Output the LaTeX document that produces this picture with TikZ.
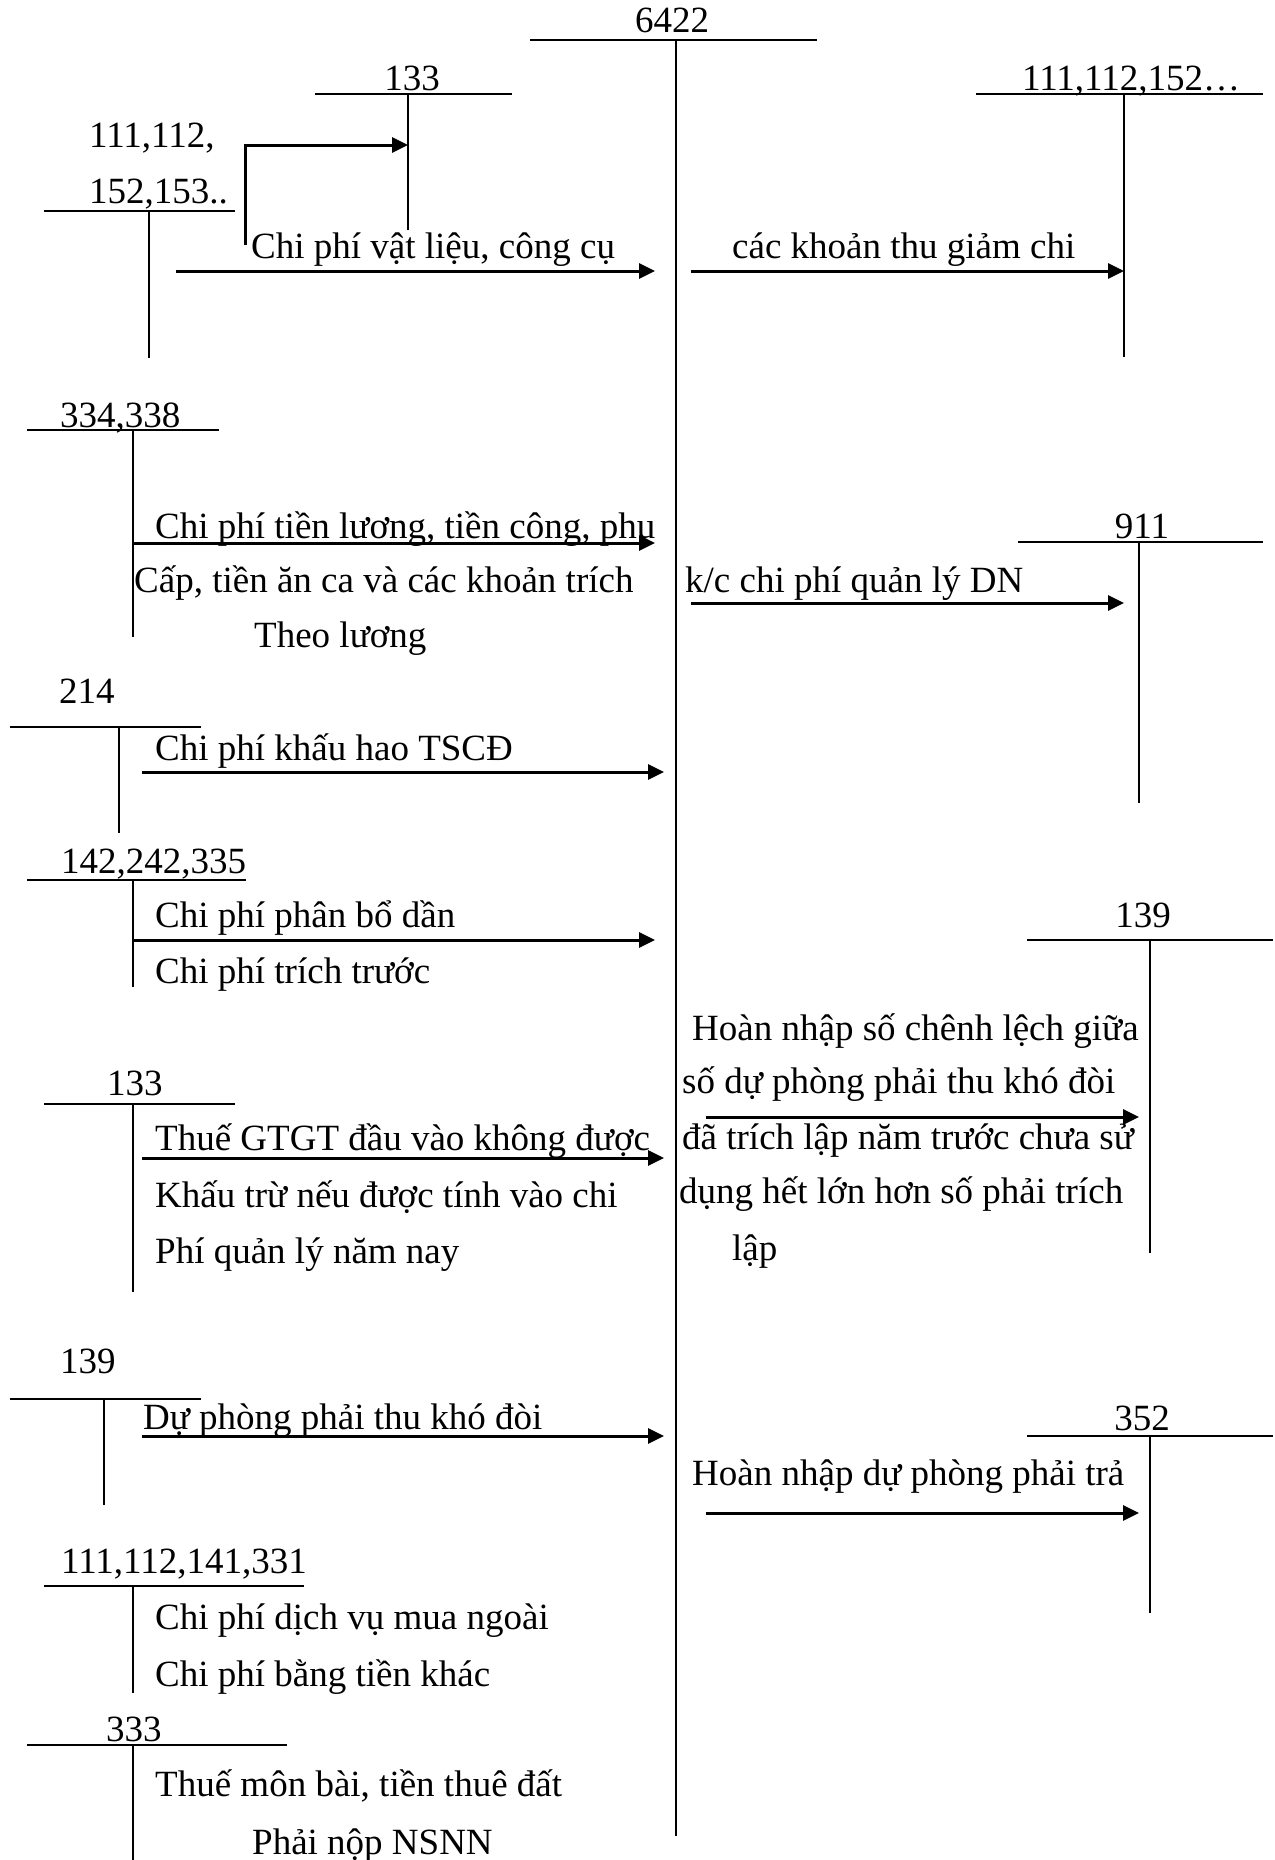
\documentclass[tikz,border=0pt]{standalone}
\usepackage{fontspec}
\setmainfont{Liberation Serif}
\usetikzlibrary{arrows.meta}
\newcommand\dfont{\fontsize{37}{44}\selectfont}
\tikzset{
  tline/.style={line width=1.7pt},
  flow/.style={line width=3pt,-{Triangle[length=16pt,width=15pt]}},
  txt/.style={inner sep=0pt,anchor=base west,font=\dfont},
  acc/.style={inner sep=0pt,anchor=base,font=\dfont},
}
\begin{document}
\begin{tikzpicture}[x=1pt,y=-1pt]
\useasboundingbox (0,0) rectangle (1274,1860);
% ---------- T-accounts ----------
% 6422
\node[acc] (l6422) at (672,33) {6422};
\coordinate (h6422a) at (530,40); \coordinate (h6422b) at (817,40);
\coordinate (v6422a) at (676,40); \coordinate (v6422b) at (676,1836);
\draw[tline] (h6422a) -- (h6422b); \draw[tline] (v6422a) -- (v6422b);
% 133 top
\node[acc] (l133a) at (412,90) {133};
\coordinate (h133aa) at (315,94); \coordinate (h133ab) at (512,94);
\coordinate (v133aa) at (408,94); \coordinate (v133ab) at (408,230);
\draw[tline] (h133aa) -- (h133ab); \draw[tline] (v133aa) -- (v133ab);
% 111,112,152,153..
\node[txt] (l111a1) at (89,147) {111,112,};
\node[txt] (l111a2) at (89,203) {152,153..};
\coordinate (h111aa) at (44,211); \coordinate (h111ab) at (235,211);
\coordinate (v111aa) at (149,211); \coordinate (v111ab) at (149,358);
\draw[tline] (h111aa) -- (h111ab); \draw[tline] (v111aa) -- (v111ab);
% 111,112,152... right
\node[txt] (l111r) at (1022,90) {111,112,152…};
\coordinate (h111ra) at (976,94); \coordinate (h111rb) at (1263,94);
\coordinate (v111ra) at (1124,94); \coordinate (v111rb) at (1124,357);
\draw[tline] (h111ra) -- (h111rb); \draw[tline] (v111ra) -- (v111rb);
% 334,338
\node[txt] (l334) at (60,427) {334,338};
\coordinate (h334a) at (27,430); \coordinate (h334b) at (219,430);
\coordinate (v334a) at (133,430); \coordinate (v334b) at (133,637);
\draw[tline] (h334a) -- (h334b); \draw[tline] (v334a) -- (v334b);
% 214
\node[txt] (l214) at (59,703) {214};
\coordinate (h214a) at (10,727); \coordinate (h214b) at (201,727);
\coordinate (v214a) at (119,727); \coordinate (v214b) at (119,833);
\draw[tline] (h214a) -- (h214b); \draw[tline] (v214a) -- (v214b);
% 911
\node[acc] (l911) at (1142,538) {911};
\coordinate (h911a) at (1018,542); \coordinate (h911b) at (1263,542);
\coordinate (v911a) at (1139,542); \coordinate (v911b) at (1139,803);
\draw[tline] (h911a) -- (h911b); \draw[tline] (v911a) -- (v911b);
% 142,242,335
\node[txt] (l142) at (61,873) {142,242,335};
\coordinate (h142a) at (27,880); \coordinate (h142b) at (246,880);
\coordinate (v142a) at (133,880); \coordinate (v142b) at (133,987);
\draw[tline] (h142a) -- (h142b); \draw[tline] (v142a) -- (v142b);
% 133 lower
\node[txt] (l133b) at (107,1095) {133};
\coordinate (h133ba) at (44,1104); \coordinate (h133bb) at (235,1104);
\coordinate (v133ba) at (133,1104); \coordinate (v133bb) at (133,1292);
\draw[tline] (h133ba) -- (h133bb); \draw[tline] (v133ba) -- (v133bb);
% 139 right
\node[acc] (l139r) at (1143,927) {139};
\coordinate (h139ra) at (1027,940); \coordinate (h139rb) at (1273,940);
\coordinate (v139ra) at (1150,940); \coordinate (v139rb) at (1150,1253);
\draw[tline] (h139ra) -- (h139rb); \draw[tline] (v139ra) -- (v139rb);
% 139 left
\node[txt] (l139l) at (60,1373) {139};
\coordinate (h139la) at (10,1399); \coordinate (h139lb) at (201,1399);
\coordinate (v139la) at (104,1399); \coordinate (v139lb) at (104,1505);
\draw[tline] (h139la) -- (h139lb); \draw[tline] (v139la) -- (v139lb);
% 111,112,141,331
\node[txt] (l111b) at (61,1573) {111,112,141,331};
\coordinate (h111ba) at (44,1586); \coordinate (h111bb) at (304,1586);
\coordinate (v111ba) at (133,1586); \coordinate (v111bb) at (133,1693);
\draw[tline] (h111ba) -- (h111bb); \draw[tline] (v111ba) -- (v111bb);
% 333
\node[txt] (l333) at (106,1741) {333};
\coordinate (h333a) at (27,1745); \coordinate (h333b) at (287,1745);
\coordinate (v333a) at (133,1745); \coordinate (v333b) at (133,1860);
\draw[tline] (h333a) -- (h333b); \draw[tline] (v333a) -- (v333b);
% 352
\node[acc] (l352) at (1142,1430) {352};
\coordinate (h352a) at (1027,1436); \coordinate (h352b) at (1273,1436);
\coordinate (v352a) at (1150,1436); \coordinate (v352b) at (1150,1613);
\draw[tline] (h352a) -- (h352b); \draw[tline] (v352a) -- (v352b);
% ---------- arrows ----------
\coordinate (e1a) at (245,245); \coordinate (e1b) at (245,145); \coordinate (e1c) at (408,145);
\draw[flow] (e1a) -- (e1b) -- (e1c);
\coordinate (a1s) at (176,271); \coordinate (a1e) at (655,271);
\draw[flow] (a1s) -- (a1e);
\coordinate (a2s) at (691,271); \coordinate (a2e) at (1124,271);
\draw[flow] (a2s) -- (a2e);
\coordinate (a3s) at (133,543); \coordinate (a3e) at (655,543);
\draw[flow] (a3s) -- (a3e);
\coordinate (a4s) at (691,603); \coordinate (a4e) at (1124,603);
\draw[flow] (a4s) -- (a4e);
\coordinate (a5s) at (142,772); \coordinate (a5e) at (664,772);
\draw[flow] (a5s) -- (a5e);
\coordinate (a6s) at (133,940); \coordinate (a6e) at (655,940);
\draw[flow] (a6s) -- (a6e);
\coordinate (a7s) at (142,1158); \coordinate (a7e) at (664,1158);
\draw[flow] (a7s) -- (a7e);
\coordinate (a8s) at (706,1117); \coordinate (a8e) at (1139,1117);
\draw[flow] (a8s) -- (a8e);
\coordinate (a9s) at (142,1436); \coordinate (a9e) at (664,1436);
\draw[flow] (a9s) -- (a9e);
\coordinate (a10s) at (706,1513); \coordinate (a10e) at (1139,1513);
\draw[flow] (a10s) -- (a10e);
% ---------- texts ----------
\node[txt] (t1) at (251,258) {Chi phí vật liệu, công cụ};
\node[txt] (t2) at (732,258) {các khoản thu giảm chi};
\node[txt] (t3) at (155,538) {Chi phí tiền lương, tiền công, phụ};
\node[txt] (t4) at (134,592) {Cấp, tiền ăn ca và các khoản trích};
\node[txt] (t5) at (254,647) {Theo lương};
\node[txt] (t6) at (685,592) {k/c chi phí quản lý DN};
\node[txt] (t7) at (155,760) {Chi phí khấu hao TSCĐ};
\node[txt] (t8) at (155,927) {Chi phí phân bổ dần};
\node[txt] (t9) at (155,983) {Chi phí trích trước};
\node[txt] (t10) at (692,1040) {Hoàn nhập số chênh lệch giữa};
\node[txt] (t11) at (682,1093) {số dự phòng phải thu khó đòi};
\node[txt] (t12) at (155,1150) {Thuế GTGT đầu vào không được};
\node[txt] (t13) at (682,1149) {đã trích lập năm trước chưa sử};
\node[txt] (t14) at (155,1207) {Khấu trừ nếu được tính vào chi};
\node[txt] (t15) at (679,1203) {dụng hết lớn hơn số phải trích};
\node[txt] (t16) at (155,1263) {Phí quản lý năm nay};
\node[txt] (t17) at (732,1260) {lập};
\node[txt] (t18) at (143,1429) {Dự phòng phải thu khó đòi};
\node[txt] (t19) at (692,1485) {Hoàn nhập dự phòng phải trả};
\node[txt] (t20) at (155,1629) {Chi phí dịch vụ mua ngoài};
\node[txt] (t21) at (155,1686) {Chi phí bằng tiền khác};
\node[txt] (t22) at (155,1796) {Thuế môn bài, tiền thuê đất};
\node[txt] (t23) at (252,1854) {Phải nộp NSNN};
\end{tikzpicture}
\end{document}
